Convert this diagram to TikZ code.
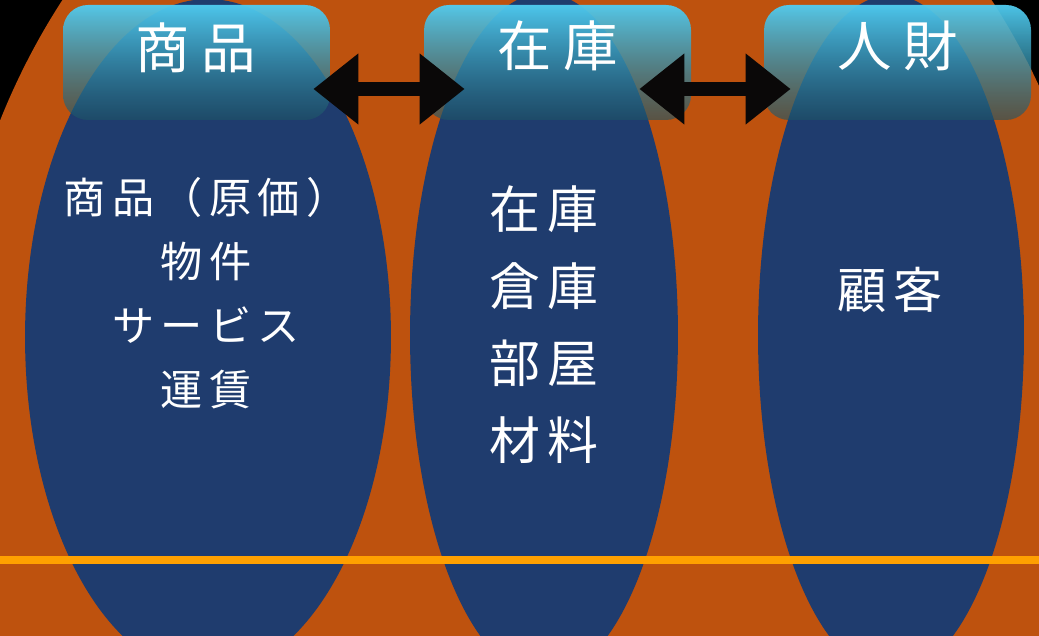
\documentclass[tikz,border=0pt]{standalone}
\usepackage{fontspec}
\newfontfamily\jp{Noto Sans CJK JP}[LetterSpace=15]
\newfontfamily\jptitle{Noto Sans CJK JP}[LetterSpace=22]
\usetikzlibrary{shapes.geometric,arrows.meta,fadings,positioning}

\definecolor{bgorange}{RGB}{190,82,14}
\definecolor{ovalblue}{RGB}{31,60,110}
\definecolor{hdrtop}{RGB}{80,205,242}
\definecolor{hdrbot}{RGB}{29,84,101}
\definecolor{lineorange}{RGB}{255,160,0}
\definecolor{arrowblack}{RGB}{10,8,8}

\tikzfading[name=hdrfade, top color=transparent!5, bottom color=transparent!38]

\tikzset{
  oval/.style={ellipse, fill=ovalblue, inner sep=0pt},
  header/.style={rounded corners=0.5cm, minimum width=5.34cm, minimum height=2.3cm,
    top color=hdrtop, bottom color=hdrbot, path fading=hdrfade},
  title/.style={text=white, font=\jptitle\fontsize{31}{36}\selectfont},
  body/.style={text=white, align=center},
  dblarrow/.style={line width=0.28cm, arrowblack,
    {Triangle[length=0.9cm,width=1.36cm]}-{Triangle[length=0.9cm,width=1.36cm]}}
}

\begin{document}
\begin{tikzpicture}[x=0.02cm,y=-0.02cm]
  \fill[black] (0,0) rectangle (1039,636);
  \useasboundingbox (0,0) rectangle (1039,636);
  \begin{scope}
    \clip (0,0) rectangle (1039,636);
    \fill[bgorange] (527,400) ellipse [x radius=580, y radius=668];
    \node[oval, minimum width=7.32cm, minimum height=13.52cm] (ogoods) at (208,337) {};
    \node[oval, minimum width=5.36cm, minimum height=13.68cm] (ostock) at (544,335) {};
    \node[oval, minimum width=5.32cm, minimum height=13.6cm] (ostaff) at (891,335) {};
    \draw[line width=0.16cm, lineorange] (0,560) -- (1039,560);
  \end{scope}

  \node[body, font=\jp\fontsize{24}{36.4}\selectfont] (lgoods) at (206,293)
    {商品（原価）\\物件\\サービス\\運賃};
  \node[body, font=\jp\fontsize{29}{43.8}\selectfont] (lstock) at (544,325)
    {在庫\\倉庫\\部屋\\材料};
  \node[body, font=\jp\fontsize{28}{40}\selectfont] (lstaff) at (890,290) {顧客};

  \node[header] (hgoods) at (196.5,62.5) {};
  \node[header] (hstock) at (557.5,62.5) {};
  \node[header] (hstaff) at (897.5,62.5) {};
  \node[title] (tgoods) at (196,48) {商品};
  \node[title] (tstock) at (558,46) {在庫};
  \node[title] (tstaff) at (898,46) {人財};

  \draw[dblarrow, shorten <=-0.34cm, shorten >=-0.82cm]
    ([yshift=-0.53cm]hgoods.east) -- ([yshift=-0.53cm]hstock.west);
  \draw[dblarrow, shorten <=-1.04cm, shorten >=-0.54cm]
    ([yshift=-0.53cm]hstock.east) -- ([yshift=-0.53cm]hstaff.west);
\end{tikzpicture}
\end{document}
